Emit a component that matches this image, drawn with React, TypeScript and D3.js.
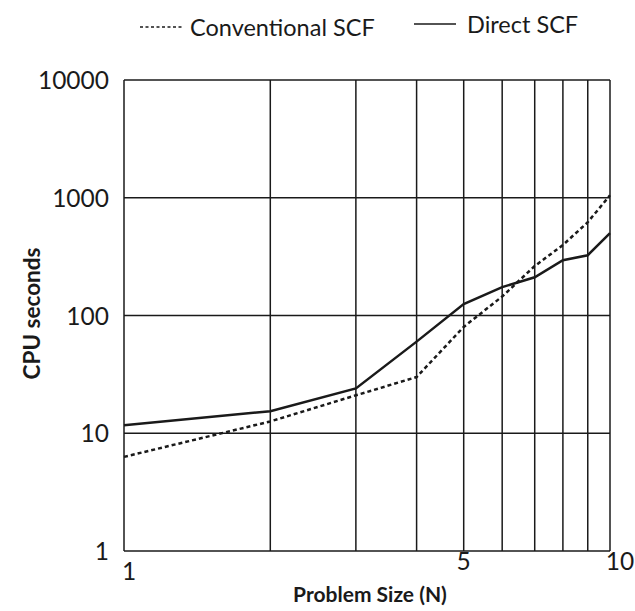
import React from "react";
import * as d3 from "d3";

const problemSizes = [1, 2, 3, 4, 5, 6, 7, 8, 9, 10];
const conventionalSCF = [6.3, 12.6, 21, 30, 80, 145, 263, 397, 620, 1050];
const directSCF = [11.7, 15.4, 24, 60, 125, 174, 211, 295, 325, 500];
const xGrid = [1, 2, 3, 4, 5, 6, 7, 8, 9, 10];
const xTickLabels = [1, 5, 10];
const yTicks = [1, 10, 100, 1000, 10000];

const W = 635;
const H = 611;
const left = 124;
const right = 610;
const top = 80;
const bottom = 551;
const font = "'Lato', 'Noto Sans', sans-serif";

export default function App() {
  const x = d3.scaleLog().domain([1, 10]).range([left, right]);
  const y = d3.scaleLog().domain([1, 10000]).range([bottom, top]);
  const line = d3
    .line<number>()
    .x((_, i) => x(problemSizes[i]))
    .y((d) => y(d));
  const ink = "#1a1a1a";
  return (
    <svg
      width={W}
      height={H}
      style={{ position: "absolute", left: 0, top: 0, background: "#fff" }}
    >
      {/* legend */}
      <line x1={140} x2={183} y1={27} y2={27} stroke={ink} strokeWidth={1.6} strokeDasharray="3,2.5" />
      <text x={190} y={36} fontFamily={font} fontSize={23.5} fill={ink}>Conventional SCF</text>
      <line x1={414} x2={456} y1={24} y2={24} stroke={ink} strokeWidth={1.6} />
      <text x={467} y={33} fontFamily={font} fontSize={23.5} fill={ink}>Direct SCF</text>

      {/* grid */}
      {xGrid.map((v) => (
        <line key={"gx" + v} x1={x(v)} x2={x(v)} y1={top} y2={bottom} stroke={ink} strokeWidth={1.5} />
      ))}
      {yTicks.map((v) => (
        <line key={"gy" + v} x1={left} x2={right} y1={y(v)} y2={y(v)} stroke={ink} strokeWidth={1.5} />
      ))}

      {/* y tick labels */}
      {yTicks.map((v) => (
        <text key={"yl" + v} x={left - 15} y={y(v) + 9} textAnchor="end" fontFamily={font} fontSize={24.5} fill={ink}>
          {v}
        </text>
      ))}
      {/* x tick labels */}
      {xTickLabels.map((v) => (
        <text
          key={"xl" + v}
          x={v === 1 ? x(v) + 5 : v === 10 ? x(v) + 10 : x(v)}
          y={v === 1 ? bottom + 29 : bottom + 19}
          textAnchor="middle"
          fontFamily={font}
          fontSize={24.5}
          fill={ink}
        >
          {v}
        </text>
      ))}

      {/* axis titles */}
      <text
        transform={`translate(40, ${(top + bottom) / 2 - 2}) rotate(-90)`}
        textAnchor="middle"
        fontFamily={font}
        fontWeight="bold"
        fontSize={22.5}
        fill={ink}
      >
        CPU seconds
      </text>
      <text x={370} y={602} textAnchor="middle" fontFamily={font} fontWeight="bold" fontSize={21} fill={ink}>
        Problem Size (N)
      </text>

      {/* series */}
      <path d={line(conventionalSCF) || ""} fill="none" stroke={ink} strokeWidth={2.5} strokeDasharray="4,3" />
      <path d={line(directSCF) || ""} fill="none" stroke={ink} strokeWidth={2.5} />
    </svg>
  );
}
